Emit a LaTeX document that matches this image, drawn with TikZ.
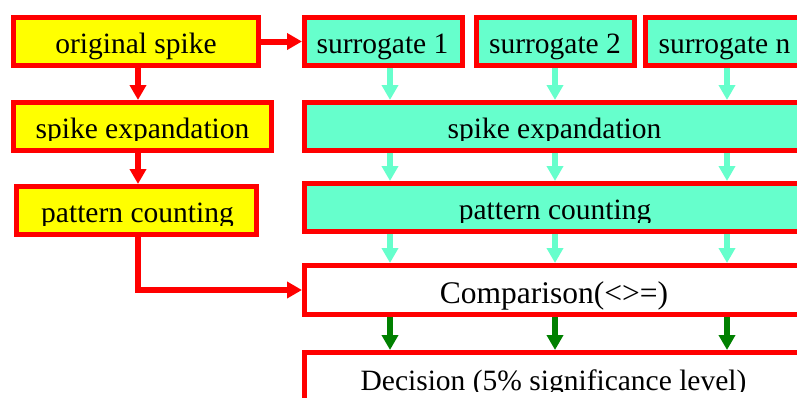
\documentclass[tikz,border=0pt]{standalone}
\usepackage{fontspec}
\setmainfont{Liberation Serif}
\usetikzlibrary{arrows.meta}

\definecolor{boxred}{HTML}{FF0000}
\definecolor{boxyellow}{HTML}{FFFF00}
\definecolor{aqua}{HTML}{66FFCC}
\definecolor{darkgreen}{HTML}{008000}

\tikzset{
  flowbox/.style={draw=boxred, line width=5pt, rectangle, inner sep=0pt},
  yellowbox/.style={flowbox, fill=boxyellow},
  aquabox/.style={flowbox, fill=aqua},
  whitebox/.style={flowbox, fill=white},
  lbl/.style={font=\fontsize{29.5}{32}\selectfont, inner sep=0pt, anchor=base, text=black},
  redarrow/.style={draw=boxred, line width=6pt, -{Triangle[width=16pt,length=15pt]}},
  aquaarrow/.style={draw=aqua, line width=6pt, -{Triangle[width=16pt,length=15pt]}},
  greenarrow/.style={draw=darkgreen, line width=6pt, -{Triangle[width=16pt,length=15pt]}},
}

% label whose lower part is cut off at a given height
\newcommand\cutlabel[5]{%
  \begin{scope}
    \clip (0,0) rectangle (797,#4);
    \node[lbl] (#1) at (#2,#3) {#5};
  \end{scope}}

\begin{document}
\begin{tikzpicture}[x=1pt,y=-1pt]
  \clip (0,0) rectangle (797,397);
  \fill[white] (0,0) rectangle (797,397);

  % original spike branch
  \node[yellowbox, minimum width=245pt, minimum height=48pt] (orig) at (136,41.5) {};
  \node[yellowbox, minimum width=258pt, minimum height=48pt] (lexp) at (142.5,126.5) {};
  \node[yellowbox, minimum width=240pt, minimum height=48pt] (lpat) at (136.5,210.5) {};

  % surrogate branch
  \node[aquabox, minimum width=158pt, minimum height=48pt] (s1) at (383.5,41.5) {};
  \node[aquabox, minimum width=158pt, minimum height=48pt] (s2) at (555.5,41.5) {};
  \node[aquabox, minimum width=160pt, minimum height=48pt] (sn) at (725.5,41.5) {};
  \node[aquabox, minimum width=501pt, minimum height=48pt] (rexp) at (555,126.5) {};
  \node[aquabox, minimum width=501pt, minimum height=48pt] (rpat) at (555,207.5) {};

  % comparison and decision
  \node[whitebox, minimum width=501pt, minimum height=49pt] (cmp) at (555,290) {};
  \node[whitebox, minimum width=501pt, minimum height=52.5pt] (dec) at (555,378.75) {};

  % labels
  \cutlabel{torig}{136}{53}{63}{original spike}
  \cutlabel{tlexp}{142.5}{138}{140.5}{spike expandation}
  \cutlabel{tlpat}{137.5}{222}{225}{pattern counting}
  \cutlabel{ts1}{382.5}{53}{63}{surrogate 1}
  \cutlabel{ts2}{555}{53}{63}{surrogate 2}
  \cutlabel{tsn}{724.5}{53}{63}{surrogate n}
  \cutlabel{trexp}{554.5}{138}{140.5}{spike expandation}
  \cutlabel{trpat}{555}{219}{222}{pattern counting}
  \node[lbl, font=\fontsize{31.5}{34}\selectfont] (tcmp) at (554,303) {Comparison(<>=)};
  \cutlabel{tdec}{553.5}{390}{391}{Decision (5\% significance level)}

  % columns of the vertical connectors
  \coordinate (lc) at (138,0);
  \coordinate (c1) at (390,0);
  \coordinate (c2) at (555,0);
  \coordinate (c3) at (727,0);

  % red connectors
  \draw[redarrow] (orig.east) -- (s1.west);
  \draw[redarrow] (orig.south -| lc) -- (lexp.north -| lc);
  \draw[redarrow] (lexp.south -| lc) -- (lpat.north -| lc);
  \draw[redarrow] (lpat.south -| lc) |- (cmp.west);

  % aqua connectors
  \draw[aquaarrow] (s1.south -| c1) -- (rexp.north -| c1);
  \draw[aquaarrow] (s2.south -| c2) -- (rexp.north -| c2);
  \draw[aquaarrow] (sn.south -| c3) -- (rexp.north -| c3);
  \foreach \c in {c1,c2,c3} {
    \draw[aquaarrow] (rexp.south -| \c) -- (rpat.north -| \c);
    \draw[aquaarrow] (rpat.south -| \c) -- (cmp.north -| \c);
    \draw[greenarrow] (cmp.south -| \c) -- (dec.north -| \c);
  }
\end{tikzpicture}
\end{document}
